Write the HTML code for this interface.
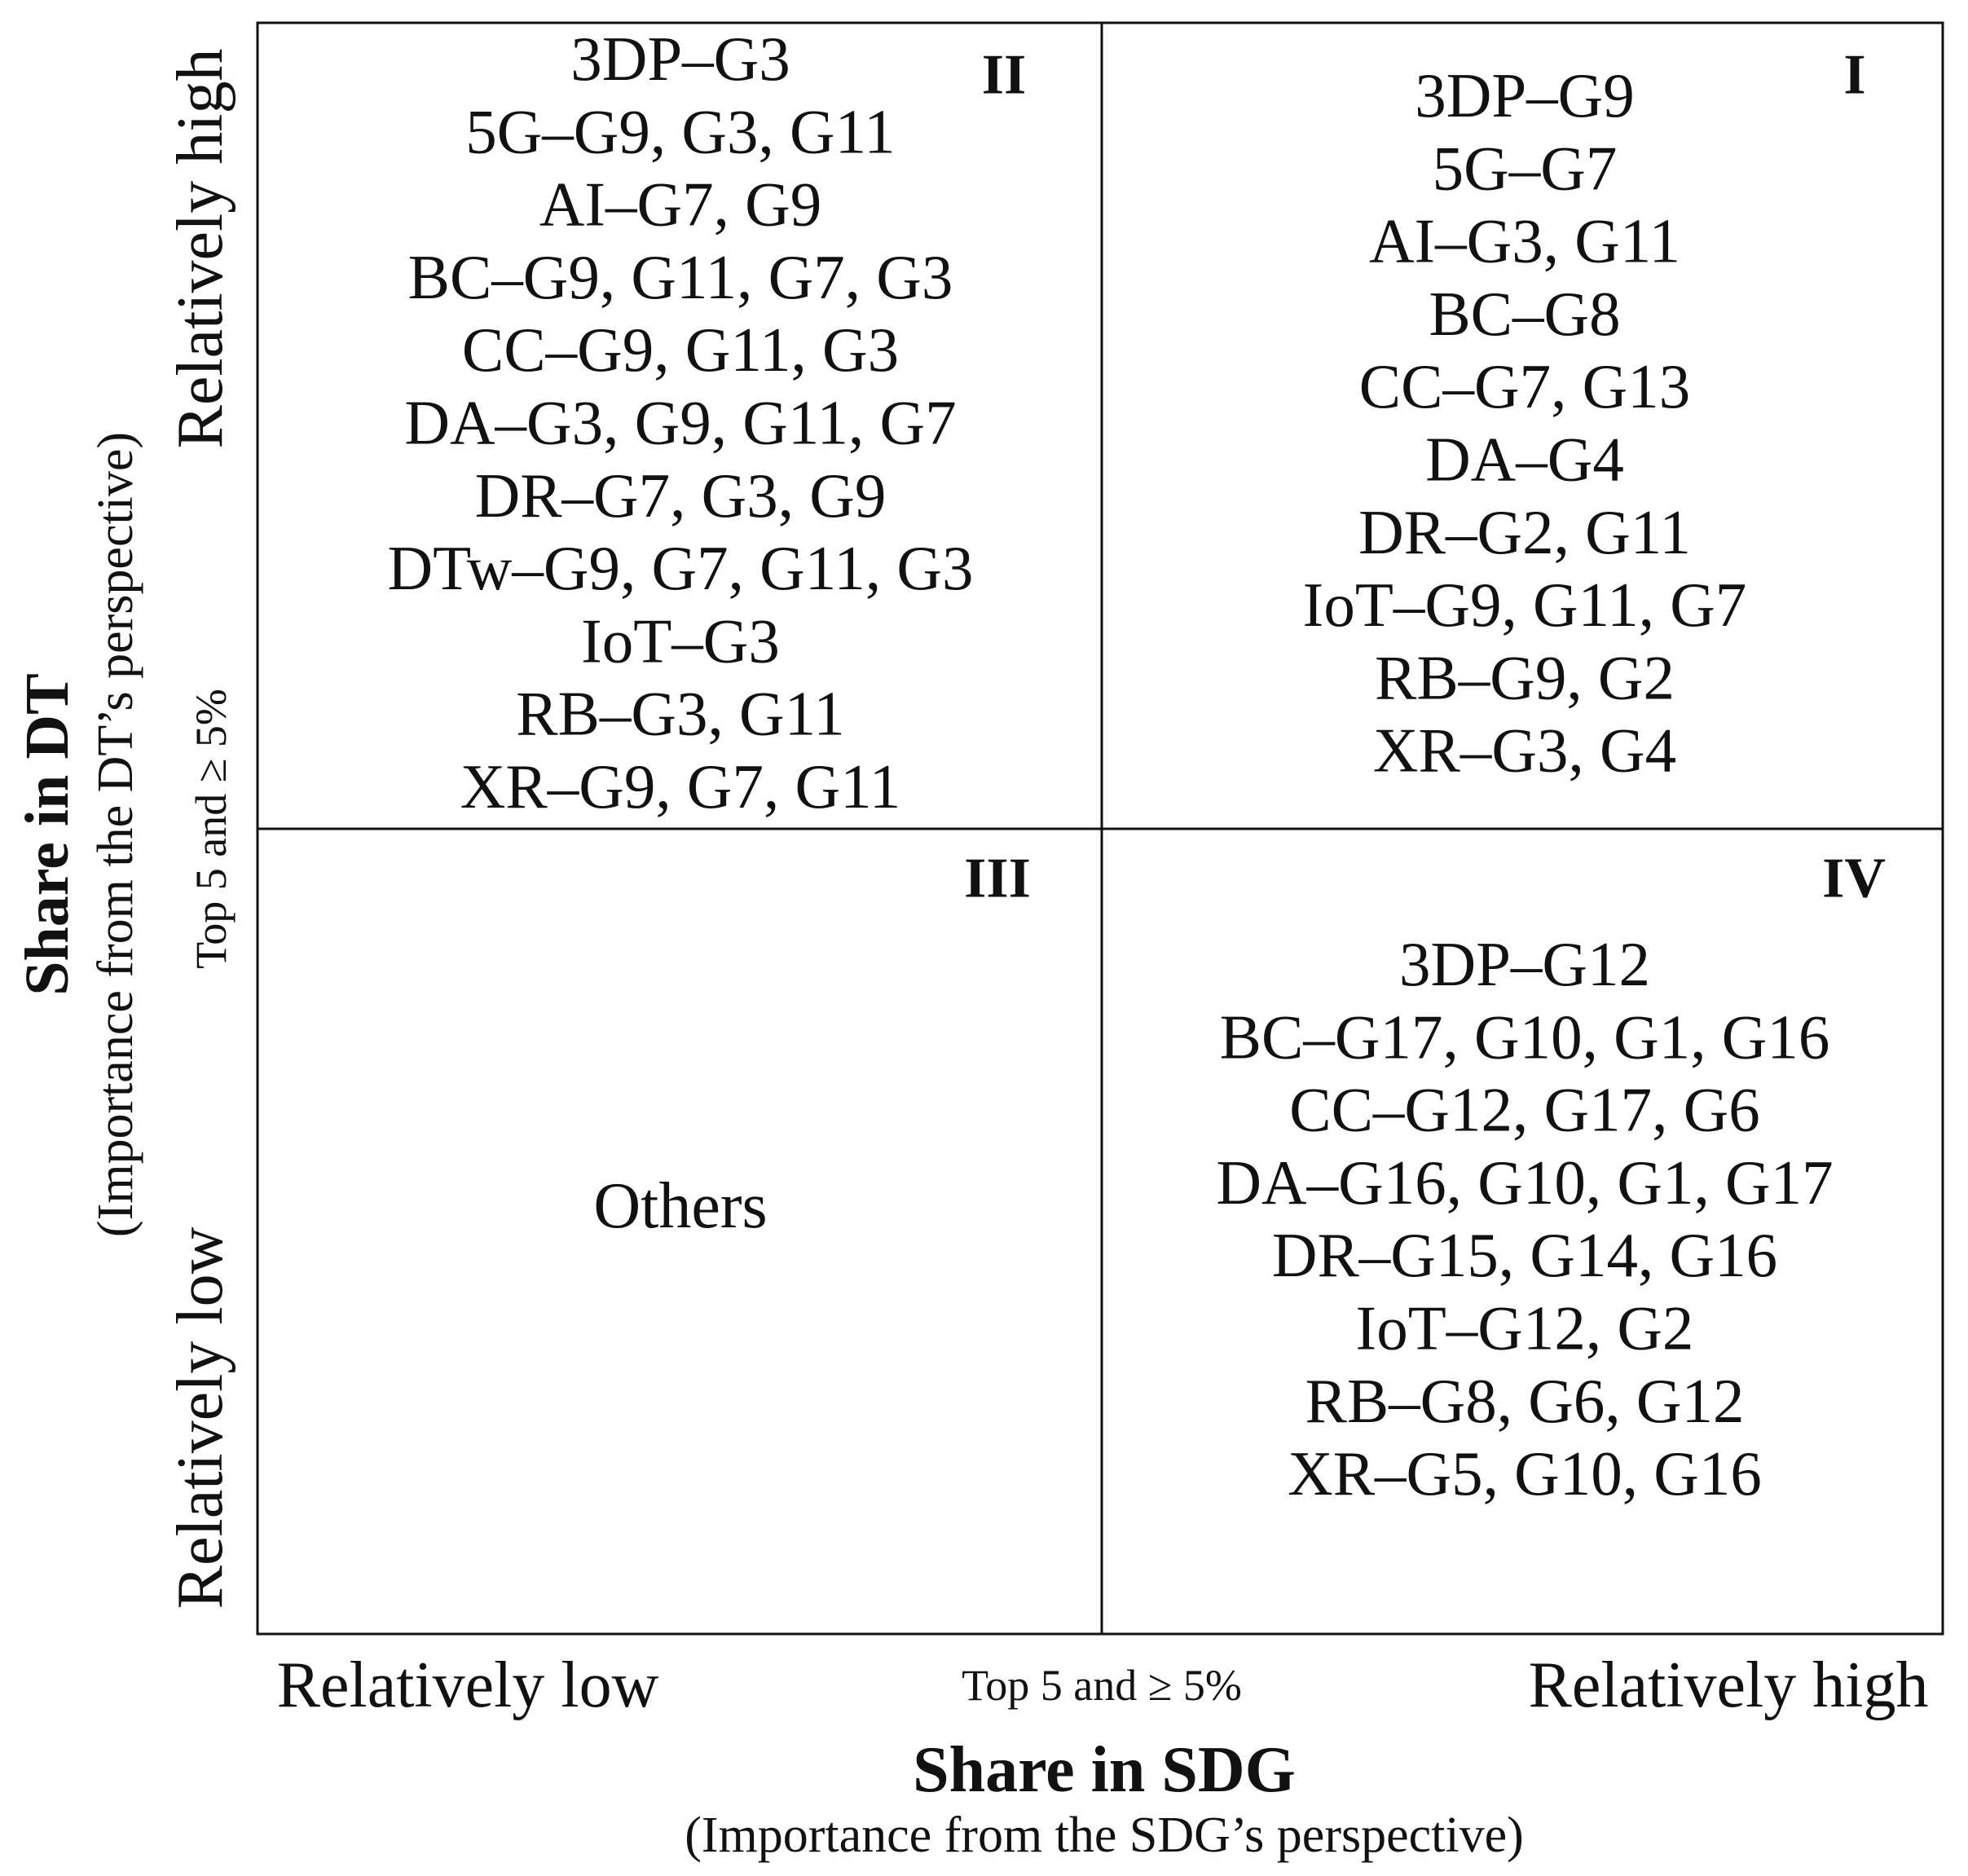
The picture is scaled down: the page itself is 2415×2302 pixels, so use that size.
<!DOCTYPE html>
<html><head><meta charset="utf-8"><style>
html,body{margin:0;padding:0;background:#fff}
svg{display:block}
text{font-family:"Liberation Serif",serif;fill:#111}
</style></head><body>
<svg id="chart" width="2415" height="2302" viewBox="0 0 2415 2302" xmlns="http://www.w3.org/2000/svg">
<g stroke="#111" stroke-width="3" fill="none">
<rect x="316" y="28" width="2068" height="1977"/>
<line x1="1352" y1="28" x2="1352" y2="2005"/>
<line x1="316" y1="1017" x2="2384" y2="1017"/>
</g>
<g id="labels" font-size="70" text-anchor="middle" dominant-baseline="central">
<text x="1232" y="92" font-weight="bold">II</text>
<text x="2276" y="92" font-weight="bold">I</text>
<text x="1224" y="1078" font-weight="bold">III</text>
<text x="2275" y="1078" font-weight="bold">IV</text>
<text x="835" y="1480" font-size="80">Others</text>
<text x="574" y="2068" font-size="80">Relatively low</text>
<text x="1352" y="2068" font-size="54">Top 5 and ≥ 5%</text>
<text x="2121" y="2068" font-size="80">Relatively high</text>
<text x="1355" y="2172" font-size="80" font-weight="bold">Share in SDG</text>
<text x="1355" y="2252" font-size="62">(Importance from the SDG’s perspective)</text>
<text transform="translate(246,305) rotate(-90)" font-size="80">Relatively high</text>
<text transform="translate(246,1740) rotate(-90)" font-size="80">Relatively low</text>
<text transform="translate(259,1017) rotate(-90)" font-size="54">Top 5 and ≥ 5%</text>
<text transform="translate(58,1024) rotate(-90)" font-size="76" font-weight="bold">Share in DT</text>
<text transform="translate(142,1024) rotate(-90)" font-size="62">(Importance from the DT’s perspective)</text>
</g>
</svg>
<script>
const q2Items = ["3DP–G3","5G–G9, G3, G11","AI–G7, G9","BC–G9, G11, G7, G3","CC–G9, G11, G3","DA–G3, G9, G11, G7","DR–G7, G3, G9","DTw–G9, G7, G11, G3","IoT–G3","RB–G3, G11","XR–G9, G7, G11"];
const q1Items = ["3DP–G9","5G–G7","AI–G3, G11","BC–G8","CC–G7, G13","DA–G4","DR–G2, G11","IoT–G9, G11, G7","RB–G9, G2","XR–G3, G4"];
const q4Items = ["3DP–G12","BC–G17, G10, G1, G16","CC–G12, G17, G6","DA–G16, G10, G1, G17","DR–G15, G14, G16","IoT–G12, G2","RB–G8, G6, G12","XR–G5, G10, G16"];
const svg = document.getElementById('chart');
const NS = 'http://www.w3.org/2000/svg';
const step = 89.3;
function drawList(items, cx, y0, prefix){
  items.forEach((t,i)=>{
    const el = document.createElementNS(NS,'text');
    el.setAttribute('x', cx);
    el.setAttribute('y', y0 + i*step);
    el.setAttribute('font-size', '77');
    el.setAttribute('text-anchor','middle');
    el.setAttribute('dominant-baseline','central');
    
    
    el.textContent = t;
    svg.appendChild(el);
  });
}
drawList(q2Items, 835, 72, 'quadrant-ii');
drawList(q1Items, 1871, 117, 'quadrant-i');
drawList(q4Items, 1871, 1183, 'quadrant-iv');
</script>
</body></html>
